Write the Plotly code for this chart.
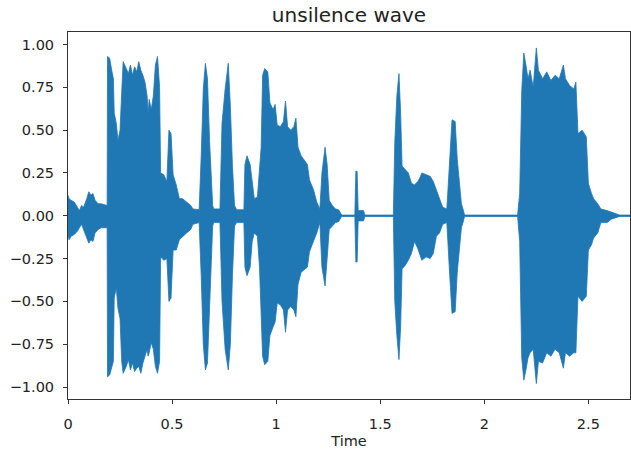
import plotly.graph_objects as go

# Envelope of the waveform (time in s, upper / lower amplitude)
times = [0.000, 0.005, 0.015, 0.030, 0.045, 0.055, 0.065, 0.075, 0.090, 0.100, 0.110, 0.120, 0.130, 0.145, 0.160, 0.180, 0.188,
         0.190, 0.200, 0.210, 0.218, 0.222, 0.232, 0.240, 0.250, 0.258, 0.265, 0.280, 0.290, 0.300, 0.310, 0.320, 0.330, 0.340,
         0.350, 0.360, 0.370, 0.380, 0.385, 0.390, 0.400, 0.410, 0.420, 0.430, 0.440, 0.445, 0.460, 0.475, 0.485, 0.495, 0.505,
         0.520, 0.535, 0.550, 0.570, 0.590, 0.600, 0.630, 0.640, 0.650, 0.660, 0.670, 0.680, 0.695, 0.700, 0.730, 0.740, 0.755,
         0.770, 0.780, 0.790, 0.800, 0.810, 0.845, 0.850, 0.860, 0.875, 0.885, 0.895, 0.910, 0.920, 0.928, 0.935, 0.945, 0.960,
         0.970, 0.985, 0.995, 1.005, 1.020, 1.035, 1.045, 1.055, 1.070, 1.085, 1.095, 1.105, 1.120, 1.150, 1.160, 1.180, 1.195,
         1.210, 1.220, 1.235, 1.245, 1.255, 1.270, 1.285, 1.300, 1.315, 1.378, 1.383, 1.389, 1.394, 1.420, 1.426, 1.563, 1.570,
         1.580, 1.590, 1.598, 1.605, 1.620, 1.635, 1.650, 1.665, 1.680, 1.690, 1.700, 1.720, 1.740, 1.755, 1.770, 1.785, 1.800,
         1.820, 1.834, 1.845, 1.860, 1.870, 1.880, 1.890, 1.900, 1.905, 2.160, 2.170, 2.180, 2.190, 2.200, 2.210, 2.220, 2.235,
         2.250, 2.260, 2.280, 2.300, 2.320, 2.340, 2.360, 2.380, 2.390, 2.410, 2.430, 2.440, 2.450, 2.470, 2.490, 2.500, 2.515,
         2.525, 2.545, 2.560, 2.590, 2.610, 2.630, 2.650, 2.700]
upper = [0.12, 0.10, 0.09, 0.08, 0.05, 0.03, 0.06, 0.05, 0.10, 0.14, 0.12, 0.13, 0.09, 0.07, 0.07, 0.06, 0.06,
         0.93, 0.92, 0.85, 0.80, 0.60, 0.54, 0.44, 0.50, 0.72, 0.90, 0.86, 0.83, 0.88, 0.82, 0.87, 0.84, 0.90,
         0.85, 0.82, 0.78, 0.70, 0.60, 0.68, 0.62, 0.70, 0.88, 0.93, 0.75, 0.25, 0.24, 0.20, 0.50, 0.48, 0.24,
         0.18, 0.10, 0.10, 0.08, 0.06, 0.04, 0.035, 0.35, 0.74, 0.89, 0.80, 0.44, 0.06, 0.04, 0.04, 0.54, 0.74,
         0.89, 0.64, 0.29, 0.06, 0.035, 0.035, 0.30, 0.35, 0.30, 0.20, 0.10, 0.11, 0.30, 0.40, 0.82, 0.86, 0.84,
         0.66, 0.62, 0.65, 0.53, 0.52, 0.55, 0.67, 0.52, 0.50, 0.52, 0.57, 0.40, 0.35, 0.30, 0.21, 0.15, 0.08,
         0.04, 0.25, 0.40, 0.30, 0.09, 0.06, 0.04, 0.035, 0.004, 0.004, 0.26, 0.26, 0.03, 0.03, 0.004, 0.004, 0.43,
         0.70, 0.83, 0.60, 0.29, 0.27, 0.25, 0.19, 0.18, 0.20, 0.22, 0.25, 0.24, 0.23, 0.20, 0.15, 0.10, 0.05,
         0.04, 0.35, 0.56, 0.55, 0.33, 0.20, 0.07, 0.03, 0.004, 0.004, 0.13, 0.73, 0.95, 0.88, 0.80, 0.85, 0.75,
         0.98, 0.85, 0.80, 0.84, 0.79, 0.82, 0.80, 0.88, 0.80, 0.76, 0.74, 0.78, 0.48, 0.50, 0.46, 0.19, 0.13,
         0.10, 0.07, 0.04, 0.03, 0.02, 0.01, 0.004, 0.004]
lower = [-0.12, -0.14, -0.12, -0.11, -0.09, -0.07, -0.05, -0.08, -0.13, -0.16, -0.14, -0.15, -0.10, -0.08, -0.07, -0.07, -0.07,
         -0.94, -0.93, -0.88, -0.85, -0.48, -0.42, -0.54, -0.60, -0.85, -0.92, -0.88, -0.84, -0.90, -0.86, -0.91, -0.89, -0.88,
         -0.92, -0.86, -0.82, -0.78, -0.82, -0.80, -0.74, -0.78, -0.88, -0.92, -0.85, -0.24, -0.26, -0.25, -0.50, -0.48, -0.20,
         -0.20, -0.14, -0.12, -0.10, -0.08, -0.05, -0.04, -0.35, -0.75, -0.90, -0.86, -0.55, -0.06, -0.04, -0.04, -0.50, -0.78,
         -0.90, -0.75, -0.35, -0.06, -0.04, -0.04, -0.30, -0.35, -0.30, -0.15, -0.10, -0.12, -0.30, -0.55, -0.82, -0.87, -0.85,
         -0.70, -0.65, -0.62, -0.51, -0.52, -0.55, -0.68, -0.55, -0.53, -0.55, -0.59, -0.40, -0.33, -0.30, -0.21, -0.15, -0.10,
         -0.04, -0.30, -0.41, -0.25, -0.08, -0.06, -0.04, -0.035, -0.004, -0.004, -0.27, -0.27, -0.03, -0.03, -0.004, -0.004, -0.50,
         -0.70, -0.84, -0.65, -0.31, -0.29, -0.26, -0.22, -0.15, -0.19, -0.22, -0.26, -0.24, -0.25, -0.22, -0.12, -0.10, -0.05,
         -0.04, -0.35, -0.57, -0.56, -0.33, -0.20, -0.07, -0.03, -0.004, -0.004, -0.15, -0.83, -0.96, -0.90, -0.83, -0.80, -0.78,
         -0.98, -0.85, -0.86, -0.80, -0.82, -0.78, -0.80, -0.89, -0.80, -0.82, -0.80, -0.80, -0.47, -0.50, -0.47, -0.20, -0.17,
         -0.13, -0.10, -0.04, -0.04, -0.02, -0.01, -0.004, -0.004]

x_tick_vals = [0, 0.5, 1, 1.5, 2, 2.5]
x_tick_text = ["0", "0.5", "1", "1.5", "2", "2.5"]
y_tick_vals = [-1.0, -0.75, -0.5, -0.25, 0.0, 0.25, 0.5, 0.75, 1.0]

BLUE = "#1f77b4"
FONT = "DejaVu Sans"

poly_x = times + times[::-1]
poly_y = upper + lower[::-1]

fig = go.Figure()
fig.add_trace(go.Scatter(
    x=poly_x, y=poly_y, mode="lines", fill="toself",
    fillcolor=BLUE, line=dict(color=BLUE, width=0.8),
    hoverinfo="skip", showlegend=False,
))

axis_common = dict(
    showline=True, linecolor="#333333", linewidth=1, mirror=True,
    showgrid=False, zeroline=False,
    ticks="outside", ticklen=4, tickwidth=1, tickcolor="#333333",
    tickfont=dict(family=FONT, size=14.5, color="#222222"),
)

fig.update_layout(
    width=631, height=453,
    margin=dict(l=68, r=1, t=32, b=54),
    paper_bgcolor="white", plot_bgcolor="white",
    font=dict(family=FONT, color="#222222"),
    title=dict(text="unsilence wave", x=0.5, xref="paper", xanchor="center",
               y=1 - 15 / 453, yref="container", yanchor="middle",
               font=dict(family=FONT, size=20, color="#222222")),
    xaxis=dict(range=[0, 2.70], tickvals=x_tick_vals, ticktext=x_tick_text,
               ticklabelstandoff=8,
               title=dict(text="Time", standoff=4, font=dict(family=FONT, size=14.5, color="#222222")),
               **axis_common),
    yaxis=dict(range=[-1.07, 1.073], tickvals=y_tick_vals, tickformat=".2f",
               ticklabelstandoff=6, **axis_common),
)

fig.write_html("out.html")
